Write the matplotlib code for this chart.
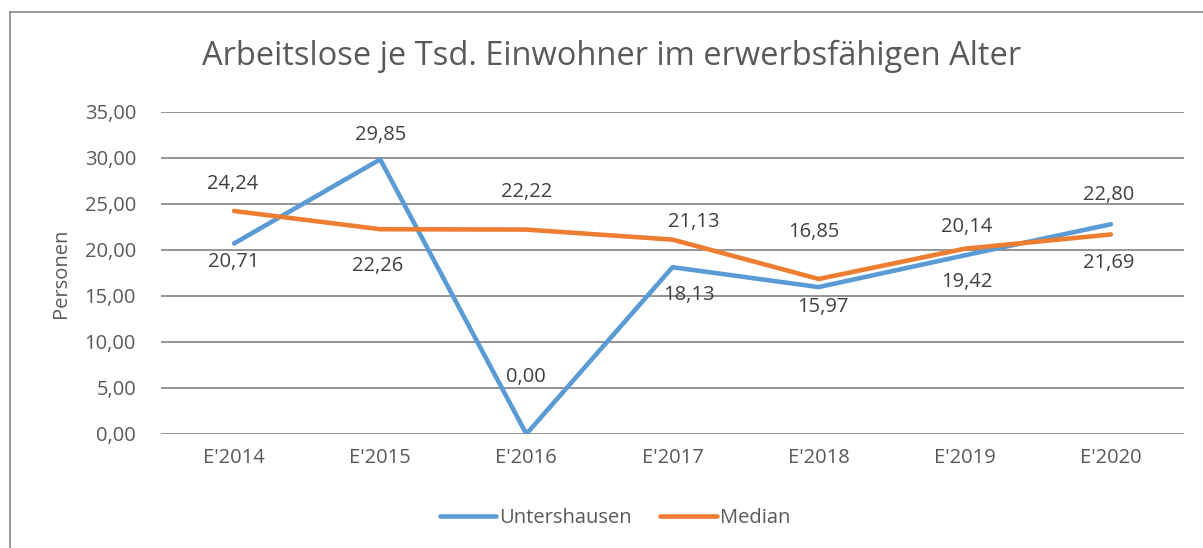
import matplotlib
matplotlib.use("Agg")
import matplotlib.pyplot as plt
from matplotlib.lines import Line2D

years = ["E'2014", "E'2015", "E'2016", "E'2017", "E'2018", "E'2019", "E'2020"]
untershausen = [20.71, 29.85, 0.00, 18.13, 15.97, 19.42, 22.80]
median = [24.24, 22.26, 22.22, 21.13, 16.85, 20.14, 21.69]

# hand-placed data label offsets (dx, dy) in pixels, dy > 0 means above
untershausen_offsets = [(0, -19), (0, 24), (0, 57), (16, -28), (4, -20), (2, -27), (-2, 29)]
median_offsets = [(-1, 27), (-3, -37), (0, 38), (21, 18), (-5, 47), (2, 22), (-2, -29)]

BLUE = "#5b9bd5"
ORANGE = "#ed7d31"
TEXT = "#595959"
GRID = "#8c8c8c"

plt.rcParams["font.family"] = ["Open Sans", "DejaVu Sans"]

fig = plt.figure(figsize=(12.03, 5.48), dpi=100)
ax = fig.add_axes([161 / 1203, 1 - 434 / 548, 1023 / 1203, 322 / 548])

# outer chart frame
fig.add_artist(Line2D([10 / 1203, 1.0], [1 - 12 / 548] * 2, transform=fig.transFigure, color="#8a8a8a", lw=1.2))
fig.add_artist(Line2D([10 / 1203] * 2, [0, 1 - 12 / 548], transform=fig.transFigure, color="#8a8a8a", lw=1.2))

x = range(len(years))
ax.plot(x, untershausen, color=BLUE, lw=3.3, solid_capstyle="round", zorder=3)
ax.plot(x, median, color=ORANGE, lw=3.3, solid_capstyle="round", zorder=3)

def fmt(v):
    return f"{v:.2f}".replace(".", ",")

for vals, offs in [(untershausen, untershausen_offsets), (median, median_offsets)]:
    for i, (v, off) in enumerate(zip(vals, offs)):
        ax.annotate(fmt(v), (i, v), xytext=off, textcoords="offset pixels",
                    ha="center", va="center", fontsize=14.5, color="#404040", zorder=4)

ax.set_xlim(-0.5, len(years) - 0.5)
ax.set_ylim(0, 35)
ax.set_yticks([0, 5, 10, 15, 20, 25, 30, 35])
ax.set_yticklabels([fmt(v) for v in ax.get_yticks()])
ax.set_xticks(list(x))
ax.set_xticklabels(years)
ax.tick_params(axis="both", length=0, labelsize=14.5, colors=TEXT)
ax.tick_params(axis="y", pad=18)
ax.tick_params(axis="x", pad=10)
ax.grid(axis="y", color=GRID, lw=1.3)
ax.set_axisbelow(True)
for s in ax.spines.values():
    s.set_visible(False)

ax.set_ylabel("Personen", fontsize=14.5, color=TEXT, labelpad=10)
fig.text(612 / 1203, 1 - 56 / 548, "Arbeitslose je Tsd. Einwohner im erwerbsfähigen Alter",
         ha="center", va="center", fontsize=23.5, color=TEXT)

handles = [Line2D([], [], color=BLUE, lw=3.3, solid_capstyle="round"),
           Line2D([], [], color=ORANGE, lw=3.3, solid_capstyle="round")]
fig.legend(handles, ["Untershausen", "Median"], loc="center", bbox_to_anchor=(615 / 1203, 1 - 518 / 548),
           ncol=2, frameon=False, fontsize=14.5, labelcolor=TEXT, handlelength=2.8,
           handletextpad=0.15, columnspacing=1.4)

fig.savefig("out.png", dpi=100)
